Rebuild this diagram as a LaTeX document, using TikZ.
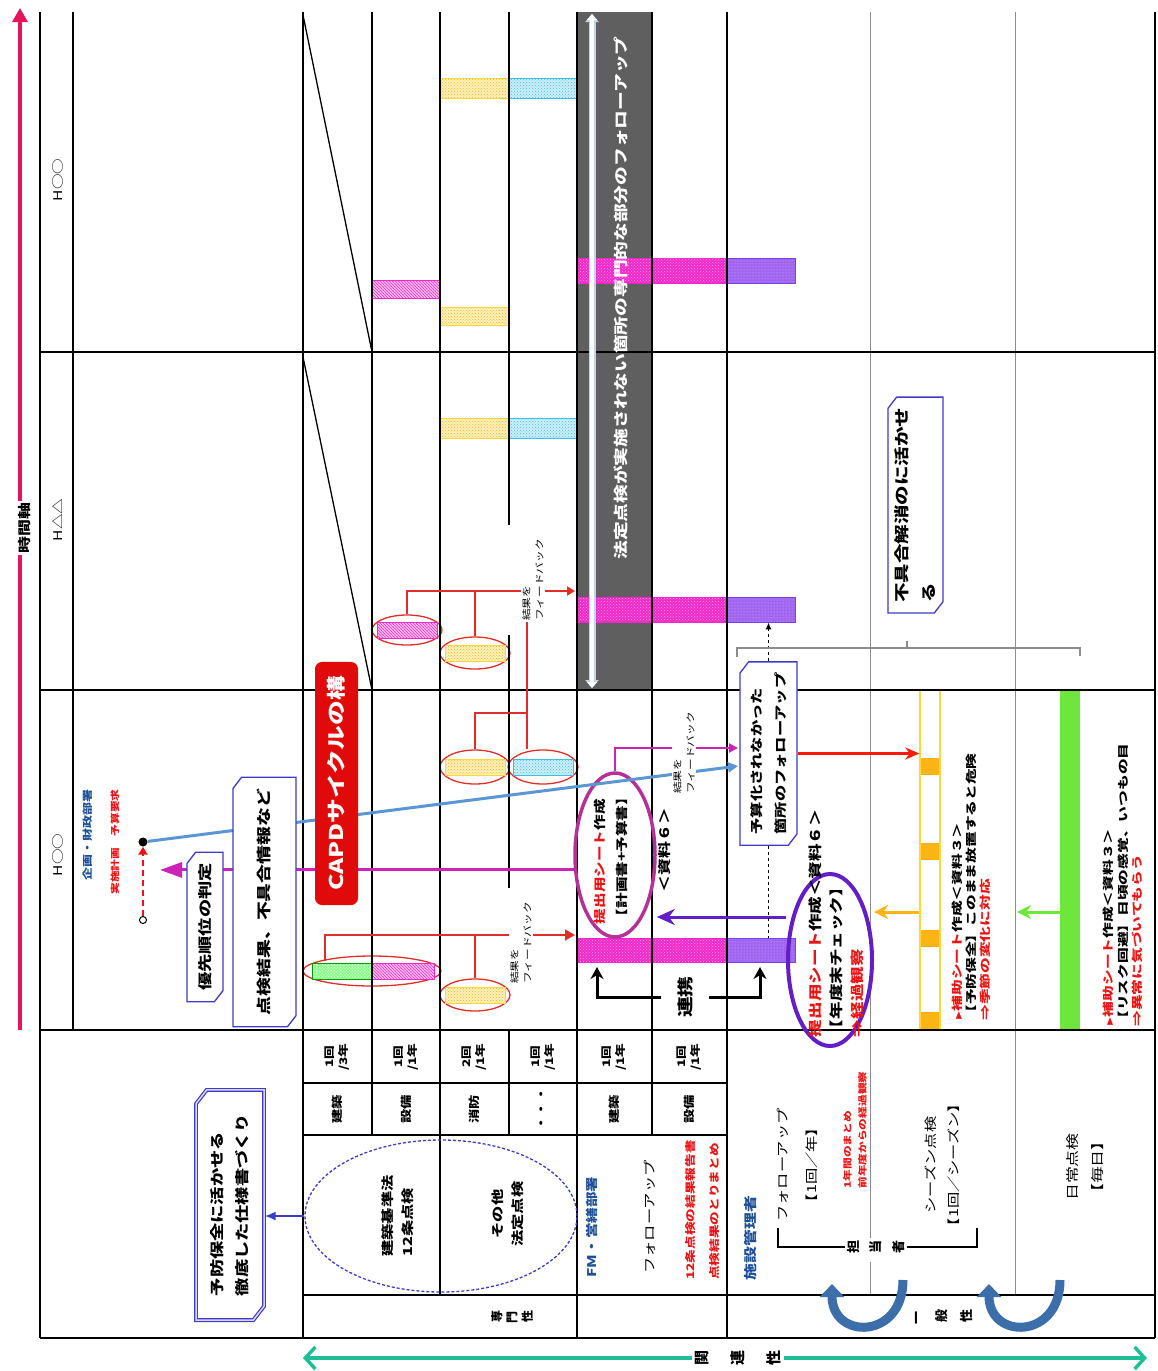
\documentclass[tikz,border=0pt]{standalone}
\usepackage{fontspec}
\setmainfont{Noto Sans CJK JP}
\usetikzlibrary{positioning,shapes.geometric,shapes.misc,arrows.meta,patterns}
\definecolor{timered}{RGB}{230,20,90}
\definecolor{relgreen}{RGB}{30,190,150}
\definecolor{boxblue}{RGB}{60,60,200}
\definecolor{barmag}{RGB}{240,40,200}
\definecolor{barpur}{RGB}{160,100,240}
\definecolor{baryel}{RGB}{255,215,60}
\definecolor{barcyan}{RGB}{60,190,230}
\definecolor{barred}{RGB}{225,45,40}
\definecolor{ellmag}{RGB}{180,50,150}
\definecolor{ellvio}{RGB}{100,30,200}
\definecolor{bandgray}{RGB}{95,95,95}
\definecolor{linkblue}{RGB}{90,150,210}
\definecolor{capdred}{RGB}{225,10,10}
\definecolor{deptblue}{RGB}{30,80,150}
\definecolor{greenbar}{RGB}{110,230,60}
\definecolor{orangebar}{RGB}{250,180,20}
\definecolor{curveblue}{RGB}{60,110,170}
\definecolor{txtred}{RGB}{235,20,20}
\newcommand{\fsz}[2]{\fontsize{#1}{#2}\selectfont}
\newcommand{\vch}[1]{\rotatebox[origin=c]{90}{#1}}
\newcommand{\mk}{\scalebox{0.6}{▶}}

\begin{document}
\begin{tikzpicture}[x=1pt, y=-1pt,
    gridline/.style={black, line width=1.3pt},
    boldline/.style={black, line width=2.8pt},
    greyline/.style={black!45, line width=1pt},
    rtxt/.style={rotate=90, xscale=1.3, inner sep=1pt, align=left},
    ctxt/.style={rtxt, align=center},
    sidebox/.style={rtxt, chamfered rectangle, chamfered rectangle corners={north east, south west},
                    chamfered rectangle xsep=5pt, draw=boxblue, line width=1.3pt, fill=white},
    magbar/.style={draw=barmag, line width=0.8pt, inner sep=0pt, preaction={fill=barmag}, pattern=crosshatch dots, pattern color=white!55!barmag},
    purbar/.style={draw=barpur!70!blue, line width=0.8pt, inner sep=0pt, preaction={fill=barpur}, pattern=dots, pattern color=white!60!barpur},
    yelbar/.style={draw=baryel, line width=1pt, preaction={fill=baryel!35}, pattern=crosshatch dots, pattern color=orangebar},
    cyanbar/.style={draw=barcyan, line width=1pt, preaction={fill=barcyan!25}, pattern=crosshatch dots, pattern color=barcyan},
    hatchbar/.style={draw=barmag, line width=0.8pt, preaction={fill=barmag!30}, pattern=north west lines, pattern color=barmag},
    greenhatch/.style={draw=green!60!black, line width=0.8pt, preaction={fill=green!45}, pattern=crosshatch dots, pattern color=white},
    ovalring/.style={ellipse, draw=barred, line width=1.3pt, fill=white, inner sep=0pt},
    redline/.style={barred, line width=1.8pt},
    fbtext/.style={rtxt, fill=white, font=\fsz{9}{13}},
    bentarrow/.style={black, line width=3pt, -{Stealth[length=12pt,width=13pt]}},
    curvearrow/.style={curveblue, line width=9pt, -{Triangle[width=24pt,length=13pt]}}
]
\useasboundingbox (0,0) rectangle (1157,1371);

% band
\fill[bandgray] (578,12) rectangle (652,690);

% bars
\path[yelbar] (440,78) rectangle (509,98);
\path[cyanbar] (509,78) rectangle (577,98);
\path[hatchbar] (372,280) rectangle (440,298);
\path[yelbar] (440,307) rectangle (509,325);
\path[yelbar] (440,418) rectangle (509,438);
\path[cyanbar] (509,418) rectangle (577,438);
\node[magbar, minimum width=150, minimum height=25] (mag1) at (652,270.5) {};
\node[purbar, minimum width=68, minimum height=25] (pur1) at (761,270.5) {};
\node[magbar, minimum width=150, minimum height=25] (mag2) at (652,609.5) {};
\node[purbar, minimum width=68, minimum height=25] (pur2) at (761,609.5) {};
\node[magbar, minimum width=150, minimum height=24] (mag3) at (652,950) {};
\node[purbar, minimum width=68, minimum height=24] (pur3) at (761,950) {};

% ellipses with bars
\node[ovalring, minimum width=70, minimum height=30] (e1) at (407,630) {};
\path[hatchbar] (377,622) rectangle (437,638);
\node[ovalring, minimum width=70, minimum height=32] (e2) at (475,653) {};
\path[yelbar] (445,645) rectangle (505,661);
\node[ovalring, minimum width=70, minimum height=34] (e3) at (475,767) {};
\path[yelbar] (445,759) rectangle (505,775);
\node[ovalring, minimum width=70, minimum height=34] (e4) at (543,767) {};
\path[cyanbar] (513,759) rectangle (573,775);
\node[ovalring, minimum width=138, minimum height=30] (e5) at (372,971) {};
\path[greenhatch] (312,963) rectangle (372,979);
\path[hatchbar] (372,963) rectangle (434,979);
\node[ovalring, minimum width=70, minimum height=32] (e6) at (475,995) {};
\path[yelbar] (445,987) rectangle (505,1003);

% rails
\node[draw=baryel, line width=1.5pt, fill=white, minimum width=20, minimum height=340, inner sep=0pt] (yrail) at (930,860) {};
\foreach \ya in {758,843,930,1012} \fill[orangebar] (921,\ya) rectangle (939,\ya+17);
\node[fill=greenbar, minimum width=20, minimum height=340, inner sep=0pt] (grail) at (1070,860) {};

% grid
\draw[gridline] (40,12) -- (40,1338);
\draw[gridline] (73,12) -- (73,1030);
\draw[gridline] (303,12) -- (303,1338);
\draw[gridline] (372,12) -- (372,1135);
\draw[gridline] (440,12) -- (440,1295);
\draw[gridline] (509,12) -- (509,525) (509,635) -- (509,888) (509,1030) -- (509,1135);
\draw[gridline] (652,12) -- (652,1135);
\draw[greyline] (870,12) -- (870,1238) (870,1262) -- (870,1295);
\draw[greyline] (1015,12) -- (1015,1295);
\draw[gridline] (1155,12) -- (1155,1338);
\draw[gridline] (40,352) -- (1155,352);
\draw[gridline] (40,690) -- (1155,690);
\draw[boldline] (40,1030) -- (1155,1030);
\draw[gridline] (303,1083) -- (727,1083);
\draw[boldline] (303,1135) -- (727,1135);
\draw[gridline] (303,1295) -- (1155,1295);
\draw[gridline] (40,1338) -- (1155,1338);
\draw[boldline] (577,12) -- (577,1338);
\draw[boldline] (727,12) -- (727,1338);
\draw[gridline] (303,15) -- (372,352);
\draw[gridline] (303,357) -- (372,690);

% band arrow and text
\coordinate (bandtop) at (592,14);
\coordinate (bandbot) at (592,688);
\draw[linkblue!40, line width=7pt, {Triangle[width=13pt,length=8pt]}-{Triangle[width=13pt,length=8pt]}] (bandtop) -- (bandbot);
\draw[white, line width=4.5pt, {Triangle[width=10pt,length=6pt]}-{Triangle[width=10pt,length=6pt]}] (bandtop) -- (bandbot);
\node[rtxt, text=white, font=\bfseries\fsz{14.4}{16}] (bandtxt) at (621,298) {法定点検が実施されない箇所の専門的な部分のフォローアップ};

% time axis
\coordinate (tstart) at (20,1030);
\coordinate (tend) at (20,8);
\draw[timered, line width=4pt, -{Triangle[width=15pt,length=14pt]}] (tstart) -- (tend);
\node[rtxt, fill=white, font=\bfseries\fsz{13}{15}] (tlabel) at (25,528) {時間軸};
\node[rtxt, font=\fsz{12}{14}] (h1) at (58,180) {H○○};
\node[rtxt, font=\fsz{12}{14}] (h2) at (58,520) {H△△};
\node[rtxt, font=\fsz{12}{14}] (h3) at (58,855) {H○○};

% departments
\node[rtxt, text=deptblue, font=\bfseries\fsz{10}{12}] (kikaku) at (88,835) {企画・財政部署};
\node[rtxt, text=txtred, font=\bfseries\fsz{9}{11}] (yokyu) at (115,842) {実施計画\quad 予算要求};
\node[circle, draw=black, line width=1pt, fill=white, inner sep=2.5pt] (opendot) at (143,920) {};
\node[circle, fill=black, inner sep=3.2pt] (fulldot) at (143,842) {};
\draw[txtred, line width=2.5pt, dash pattern=on 6pt off 4pt, -{Triangle[width=9pt,length=8pt]}] (opendot) -- (fulldot);

% connectors in chart
\draw[redline, -{Triangle[length=8pt,width=9pt]}] (e1.north) |- (575,591) coordinate (fbtipA);
\draw[redline] (e2.north) -- (e2.north |- fbtipA);
\draw[redline] (e3.north) |- (527,713) coordinate (brkC);
\draw[redline] (brkC) -- (brkC |- e4.north);
\coordinate (stemA) at (325,961);
\draw[redline, -{Triangle[length=10pt,width=11pt]}] (stemA) |- (575,935) coordinate (fbtipB);
\draw[redline] (e6.north) -- (e6.north |- fbtipB);

% big ellipses
\node[ellipse, draw=ellmag, line width=3.5pt, minimum width=80, minimum height=164] (magell) at (615,855) {};
\node[ellipse, draw=ellvio, line width=4pt, minimum width=84, minimum height=172] (vioell) at (830,960) {};

% long links
\coordinate (bluein) at (738,766);
\draw[linkblue, line width=3pt, -{Triangle[length=10pt,width=10pt]}] (fulldot) -- (bluein);
\coordinate (magtip) at (160,922);
\draw[ellmag!70!magenta, line width=3pt, -{Triangle[width=15pt,length=22pt]}] (magell.200) -- (magell.200 -| magtip);
\coordinate (magin) at (738,748);
\draw[ellmag!70!magenta, line width=2pt, -{Triangle[length=9pt,width=9pt]}] (magell.north) |- (magin);
\coordinate (vioRow) at (0,917);
\draw[ellvio, line width=3pt, -{Stealth[length=18pt,width=16pt]}] (vioell.west |- vioRow) -- (magell.east |- vioRow);
\coordinate (orRow) at (0,912);
\draw[orangebar, line width=3pt, -{Stealth[length=14pt,width=14pt]}] (yrail.west |- orRow) -- (vioell.east |- orRow);
\draw[greenbar, line width=3pt, -{Stealth[length=14pt,width=14pt]}] (grail.west |- orRow) -- (1017,912);

% feedback labels
\node[fbtext] (fb1) at (533,580) {結果を\\フィードバック};
\node[fbtext] (fb2) at (521,943) {結果を\\フィードバック};
\node[fbtext] (fb3) at (684,753) {結果を\\フィードバック};
\draw[redline] (brkC |- e4.north) -- (brkC |- fb1.west);

% boxes
\node[sidebox, minimum width=115, minimum height=36, font=\bfseries\fsz{14}{16}] (yusen) at (205,927) {優先順位の判定};
\node[sidebox, minimum width=192, minimum height=63, font=\bfseries\fsz{14.5}{16}] (tenken) at (264.5,902) {点検結果、不具合情報など};
\node[rtxt, rounded corners=7pt, fill=capdred, text=white, minimum width=187, minimum height=43, font=\bfseries\fsz{19}{21}] (capd) at (336.5,783.5) {CAPDサイクルの構};
\node[sidebox, minimum width=141, minimum height=57, font=\bfseries\fsz{12.5}{24}] (yosan) at (768.5,753.5) {予算化されなかった\\箇所のフォローアップ};
\node[sidebox, minimum width=166, minimum height=55, font=\bfseries\fsz{15}{27}] (fuguai) at (915.5,505) {不具合解消のに活かせ\\る};

\draw[black, line width=1.3pt, dashed, -{Latex[length=7pt,width=6pt]}] (yosan.east) -- (yosan.east |- pur2.south);
\draw[black, line width=1.3pt, dashed] (yosan.west) -- (yosan.west |- pur3.north);
\draw[red!80!orange, line width=2.5pt, -{Stealth[length=14pt,width=12pt]}] (yosan.south) -- (yosan.south -| yrail.west);
\draw[black!45, line width=1.8pt] (737,657) -- (737,648) -- (1080,648) -- (1080,656) (907,648) -- (907,641);

% ellipse texts
\node[rtxt, font=\bfseries\fsz{12}{22}] (magtxt) at (611,857) {\textcolor{txtred}{提出用シート}作成\\【計画書+予算書】};
\node[rtxt, font=\bfseries\fsz{13}{15}] (shiryo) at (665,850) {＜資料６＞};
\node[rtxt, font=\bfseries\fsz{13.5}{21}] (viotxt) at (836,923) {\textcolor{txtred}{提出用シート}作成＜資料６＞\\【年度末チェック】\\\textcolor{txtred}{⇒経過観察}};

% cooperation
\node[rtxt, fill=white, font=\bfseries\fsz{16}{18}, minimum width=38, minimum height=48] (renkei) at (685,997) {連携};
\coordinate (rkL) at (597,967);
\coordinate (rkR) at (760,967);
\draw[bentarrow] (renkei.north) -| (rkL);
\draw[bentarrow] (renkei.south) -| (rkR);

% rail texts
\node[rtxt, xscale=1.1, font=\bfseries\fsz{11}{14}] (yeltxt) at (971,887) {\textcolor{txtred}{\mk 補助シート}作成＜資料３＞\\【予防保全】このまま放置すると危険\\\textcolor{txtred}{⇒季節の変化に対応}};
\node[rtxt, xscale=1.1, font=\bfseries\fsz{11}{14.5}] (grntxt) at (1123,885) {\textcolor{txtred}{\mk 補助シート}作成＜資料３＞\\【リスク回避】日頃の感覚、いつもの目\\\textcolor{txtred}{⇒異常に気づいてもらう}};

% lower left
\node[rtxt, chamfered rectangle, chamfered rectangle corners={north east, south west}, chamfered rectangle xsep=7pt,
      draw=boxblue, line width=1.2pt, double=boxblue!20, double distance=1.5pt, fill=white,
      minimum width=177, minimum height=68, font=\bfseries\fsz{14}{25}] (yobou) at (230,1205) {予防保全に活かせる\\徹底した仕様書づくり};
\node[ellipse, draw=boxblue, line width=1.3pt, densely dashed, minimum width=272, minimum height=152] (hoell) at (441,1216) {};
\draw[boxblue, line width=2pt, -{Latex[length=11pt,width=9pt]}] (hoell.west) -- (yobou.south |- hoell.west);
\node[rtxt, font=\bfseries\fsz{12.5}{20}] (kijun) at (398,1216) {建築基準法\\12条点検};
\node[ctxt, font=\bfseries\fsz{12.5}{20}] (sonota) at (508,1214) {その他\\法定点検};

% table cells
\foreach \cx/\freq/\kind [count=\i] in {337.5/{1回\\/3年}/建築, 406/{1回\\/1年}/設備, 474.5/{2回\\/1年}/消防,
      543/{1回\\/1年}/・・・, 614.5/{1回\\/1年}/建築, 689.5/{1回\\/1年}/設備} {
  \node[ctxt, font=\bfseries\fsz{10.5}{14}] (freq\i) at (\cx,1057) {\freq};
  \node[ctxt, font=\bfseries\fsz{11}{13}] (kind\i) at (\cx,1109) {\kind};
}

% FM area
\node[rtxt, text=deptblue, font=\bfseries\fsz{12}{14}] (fm) at (592,1227) {FM・営繕部署};
\node[rtxt, font=\fsz{12.5}{14}] (fuB) at (650,1217) {フォローアップ};
\node[rtxt, text=txtred, font=\bfseries\fsz{10.5}{24}] (fmred) at (703,1210) {12条点検の結果報告書\\点検結果のとりまとめ};

% facility area
\node[rtxt, text=deptblue, font=\bfseries\fsz{13}{15}] (shisetsu) at (750,1238) {施設管理者};
\node[ctxt, font=\fsz{12.5}{29}] (fuA) at (797,1165) {フォローアップ\\【1回／年】};
\node[rtxt, text=txtred, font=\bfseries\fsz{9}{15}] (fuAred) at (855,1130) {1年間のまとめ\\前年度からの経過観察};
\node[ctxt, font=\fsz{12.5}{23}] (season) at (942,1165) {シーズン点検\\【1回／シーズン】};
\node[ctxt, font=\fsz{13}{25}] (nichijo) at (1085,1167) {日常点検\\【毎日】};
\node[fill=white, inner sep=2pt, font=\bfseries\fsz{13}{15}] (tanto) at (876,1247) {\vch{担}\hspace{10pt}\vch{当}\hspace{10pt}\vch{者}};
\draw[black, line width=2pt] (778,1228) -- (778,1247) -- (tanto.west);
\draw[black, line width=2pt] (tanto.east) -- (977,1247) -- (977,1228);

% bottom row
\node[font=\bfseries\fsz{12}{14}] (senmon) at (512,1317) {\vch{専}\hspace{4pt}\vch{門}\hspace{4pt}\vch{性}};
\draw[curvearrow] (903,1280) .. controls (903,1340) and (832,1340) .. (832,1284);
\draw[curvearrow] (1060,1280) .. controls (1060,1340) and (989,1340) .. (989,1284);
\node[font=\bfseries\fsz{13}{15}] (ippan) at (944,1317) {\vch{一}\hspace{14pt}\vch{般}\hspace{12pt}\vch{性}};

% relation axis
\coordinate (relL) at (303,1358);
\coordinate (relR) at (1147,1358);
\draw[relgreen, line width=3.5pt, {Straight Barb[length=10pt,width=22pt]}-{Straight Barb[length=10pt,width=22pt]}] (relL) -- (relR);
\node[fill=white, font=\bfseries\fsz{15}{17}] (kanren) at (738,1358) {\vch{関}\hspace{22pt}\vch{連}\hspace{22pt}\vch{性}};
\end{tikzpicture}
\end{document}
